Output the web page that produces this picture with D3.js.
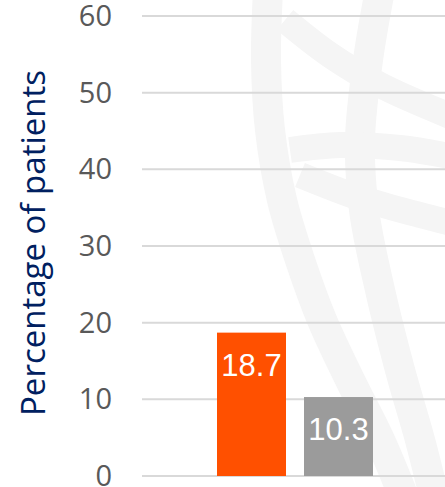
<!DOCTYPE html>
<html><head><meta charset="utf-8">
<script src="https://cdn.jsdelivr.net/npm/d3@7"></script>
<style>html,body{margin:0;padding:0;background:#fff;overflow:hidden}</style>
</head><body>
<svg id="c" width="445" height="487"></svg>
<script>
const categories = ["Group A", "Group B"];
const values = [18.7, 10.3];
const barColors = ["#FF5000", "#9B9B9B"];
const yTicks = [0, 10, 20, 30, 40, 50, 60];
const yLabel = "Percentage of patients";

const svg = d3.select("#c");
const y = d3.scaleLinear().domain([0, 60]).range([476, 16]);
const x = d3.scaleBand().domain(categories).range([217, 373]).paddingInner(18/87).paddingOuter(0);

// watermark globe (decorative)
const wm = svg.append("g").attr("fill", "none").attr("stroke", "#f5f5f5").attr("stroke-width", 30).attr("stroke-linecap", "butt");
const line = d3.line().curve(d3.curveCatmullRom);
wm.append("path").attr("d", line([[268,-10],[266,60],[270,130],[282,200],[300,260],[322,320],[350,380],[380,440],[405,500]]));
wm.append("path").attr("d", line([[380,-10],[368,60],[360,140],[364,210],[380,290],[400,370],[420,440],[435,500]]));
wm.append("path").attr("stroke-width", 26).attr("d", line([[290,150],[340,145],[400,148],[460,158]]));
wm.append("path").attr("stroke-width", 26).attr("d", line([[285,20],[330,55],[380,85],[460,120]]));
wm.append("path").attr("stroke-width", 26).attr("d", line([[300,175],[360,198],[420,215],[460,225]]));

// gridlines
svg.append("g").selectAll("line").data(yTicks).join("line")
  .attr("x1", 142).attr("x2", 445)
  .attr("y1", d => y(d)).attr("y2", d => y(d))
  .attr("stroke", "#d9d9d9").attr("stroke-width", 2);

// tick labels
svg.append("g").selectAll("text").data(yTicks).join("text")
  .attr("x", 112).attr("y", d => y(d)).attr("dy", "0.35em")
  .attr("text-anchor", "end")
  .attr("font-family", "'Open Sans', sans-serif").attr("font-size", 29)
  .attr("fill", "#595959").text(d => d);

// bars
svg.append("g").selectAll("rect").data(values).join("rect")
  .attr("x", (d, i) => x(categories[i])).attr("width", x.bandwidth())
  .attr("y", d => y(d)).attr("height", d => y(0) - y(d))
  .attr("fill", (d, i) => barColors[i]);

// value labels
svg.append("g").selectAll("text").data(values).join("text")
  .attr("x", (d, i) => x(categories[i]) + x.bandwidth() / 2)
  .attr("y", d => y(d) + 43)
  .attr("text-anchor", "middle")
  .attr("font-family", "'Liberation Sans', Arial, sans-serif").attr("font-size", 31)
  .attr("fill", "#fff").text(d => d.toFixed(1));

// y axis label
svg.append("text")
  .attr("transform", "translate(45,243) rotate(-90)")
  .attr("text-anchor", "middle")
  .attr("font-family", "'Open Sans', sans-serif").attr("font-size", 33)
  .attr("fill", "#002060").text(yLabel);
</script>
</body></html>
